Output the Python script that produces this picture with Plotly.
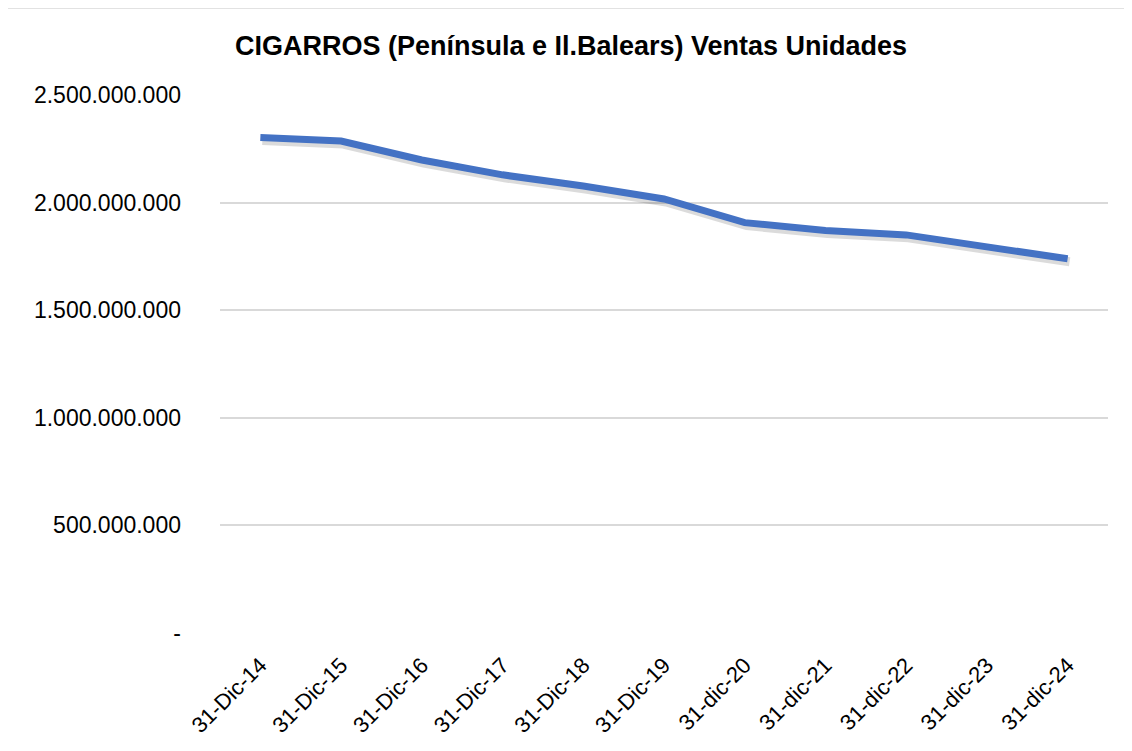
import plotly.graph_objects as go

categories = ["31-Dic-14", "31-Dic-15", "31-Dic-16", "31-Dic-17", "31-Dic-18", "31-Dic-19",
              "31-dic-20", "31-dic-21", "31-dic-22", "31-dic-23", "31-dic-24"]
ventas = [2303000000, 2286000000, 2198000000, 2129000000, 2077000000, 2017000000,
          1907000000, 1870000000, 1850000000, 1796000000, 1739000000]
y_tickvals = [0, 500000000, 1000000000, 1500000000, 2000000000, 2500000000]
y_ticktext = ["-", "500.000.000", "1.000.000.000", "1.500.000.000", "2.000.000.000", "2.500.000.000"]

W, H = 1124, 743
L, R, T, B = 212, 24, 87, 117.5
pw, ph = W - L - R, H - T - B
Y_MAX = 2500000000
# shadow offset (pixels) converted to axis units
sx = 2 * 11 / pw
sy = 3 * Y_MAX / ph

fig = go.Figure()
# invisible trace on the main (visible) axes to set up the category axis
fig.add_trace(go.Scatter(x=categories, y=ventas, mode="lines", hoverinfo="skip",
                         line=dict(color="rgba(0,0,0,0)", width=0), showlegend=False))
# soft shadow below the line
fig.add_trace(go.Scatter(x=categories, y=ventas, mode="lines",
                         xaxis="x2", yaxis="y2", hoverinfo="skip",
                         line=dict(color="rgba(0,0,0,0.14)", width=9), showlegend=False))
# the series line
fig.add_trace(go.Scatter(x=categories, y=ventas, mode="lines",
                         xaxis="x3", yaxis="y3",
                         line=dict(color="#4472C4", width=7), showlegend=False))

fig.update_layout(
    width=W, height=H,
    margin=dict(l=L, r=R, t=T, b=B, pad=0),
    paper_bgcolor="white", plot_bgcolor="white",
    font=dict(family="Liberation Sans, Arial, sans-serif", color="black"),
    title=dict(text="<b>CIGARROS (Península e Il.Balears) Ventas Unidades</b>",
               x=(571 - 8) / W, xanchor="center", y=1 - (46 - 8) / H, yanchor="middle",
               font=dict(size=27, color="black")),
    xaxis=dict(type="category", range=[-0.5, 10.5], tickangle=-45,
               tickfont=dict(size=22), showgrid=False, showline=False,
               zeroline=False, ticks="", ticklabelstandoff=14),
    yaxis=dict(range=[0, Y_MAX], tickvals=y_tickvals, ticktext=y_ticktext,
               tickfont=dict(size=23), showgrid=True, gridcolor="#d9d9d9",
               gridwidth=1.5, zeroline=False, showline=False, ticks="",
               ticklabelstandoff=38),
    xaxis2=dict(type="category", overlaying="x", range=[-0.5 - sx, 10.5 - sx], visible=False),
    yaxis2=dict(overlaying="y", range=[sy, Y_MAX + sy], visible=False),
    xaxis3=dict(type="category", overlaying="x", range=[-0.5, 10.5], visible=False),
    yaxis3=dict(overlaying="y", range=[0, Y_MAX], visible=False),
    shapes=[dict(type="rect", xref="paper", yref="paper",
                 x0=(3 - 8 - L) / pw, x1=(W + 20 - L) / pw,
                 y0=-(B + 20) / ph, y1=(ph + T) / ph,
                 line=dict(color="#d9d9d9", width=1.5), fillcolor="rgba(0,0,0,0)", layer="below")],
)

fig.write_html("out.html")
